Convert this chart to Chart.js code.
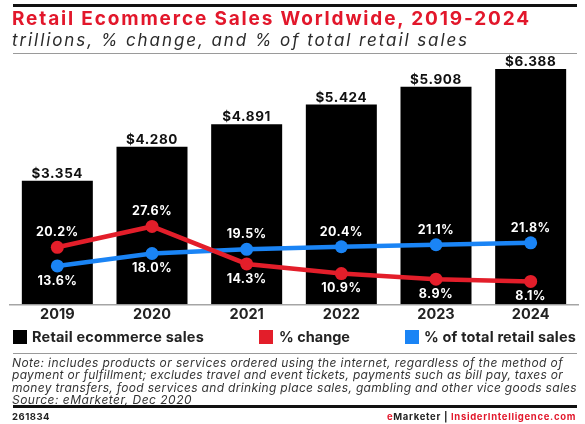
<!DOCTYPE html>
<html><head><meta charset="utf-8">
<script src="https://cdn.jsdelivr.net/npm/chart.js@4.4.1/dist/chart.umd.min.js"></script>
<style>
html,body{margin:0;padding:0;background:#fff;}
#wrap{position:relative;width:585px;height:424px;overflow:hidden;font-family:Inter,"Open Sans",sans-serif;}
#c{position:absolute;left:0;top:0;}
.t{position:absolute;white-space:nowrap;}
.rule{position:absolute;left:13px;width:564px;}
.lg{position:absolute;top:328.5px;font-size:14.5px;font-weight:700;color:#222;line-height:16px;white-space:nowrap;}
.bx{position:absolute;top:330px;width:14px;height:14px;}
.note{position:absolute;left:12px;font-size:12px;font-style:italic;color:#333;line-height:12.4px;white-space:nowrap;}
</style></head>
<body><div id="wrap">
<canvas id="c" width="585" height="424"></canvas>
<div class="rule" style="top:4px;height:3px;background:#111"></div>
<div class="t fit" style="left:12px;top:8px;font-size:19px;font-weight:700;color:#e2172b;line-height:22px" data-w="519">Retail Ecommerce Sales Worldwide, 2019-2024</div>
<div class="t fit" style="left:12px;top:29.5px;font-size:17px;font-style:italic;color:#2a2a2a;line-height:20px" data-w="457">trillions, % change, and % of total retail sales</div>
<div class="rule" style="top:53px;height:1px;background:#9a9a9a"></div>

<div class="bx" style="left:13px;background:#000"></div>
<div class="lg fit" style="left:32px" data-w="172">Retail ecommerce sales</div>
<div class="bx" style="left:259px;background:#e31e2a"></div>
<div class="lg fit" style="left:279px" data-w="71">% change</div>
<div class="bx" style="left:405px;background:#1a84f5"></div>
<div class="lg fit" style="left:424px" data-w="152">% of total retail sales</div>

<div class="rule" style="top:353px;height:1px;background:#9a9a9a"></div>
<div class="note fit" style="top:357px" data-w="551">Note: includes products or services ordered using the internet, regardless of the method of</div>
<div class="note fit" style="top:369px" data-w="551">payment or fulfillment; excludes travel and event tickets, payments such as bill pay, taxes or</div>
<div class="note fit" style="top:381.5px" data-w="565">money transfers, food services and drinking place sales, gambling and other vice goods sales</div>
<div class="note fit" style="top:394px" data-w="180">Source: eMarketer, Dec 2020</div>
<div class="rule" style="top:405px;height:2.5px;background:#111"></div>
<div class="t fit" style="left:12px;top:411px;font-size:9.5px;font-weight:700;color:#222;line-height:11px" data-w="38">261834</div>
<div class="t fit" style="left:387px;top:411px;font-size:9.5px;font-weight:700;color:#222;line-height:11px" data-w="189"><span style="color:#e2172b">e</span>Marketer | <span style="color:#e2172b">InsiderIntelligence.com</span></div>
</div>
<script>
// ---- data ----
const years = ['2019', '2020', '2021', '2022', '2023', '2024'];
const salesTrillions = [3.354, 4.280, 4.891, 5.424, 5.908, 6.388];
const pctChange = [20.2, 27.6, 14.3, 10.9, 8.9, 8.1];
const pctOfTotal = [13.6, 18.0, 19.5, 20.4, 21.1, 21.8];

// fit HTML texts to measured widths
document.querySelectorAll('.fit').forEach(el => {
  const w = +el.dataset.w;
  const n = el.textContent.length;
  const cur = el.getBoundingClientRect().width;
  el.style.letterSpacing = ((w - cur) / n) + 'px';
});

const RED = '#e31e2a', BLUE = '#1a84f5';

const labelPlugin = {
  id: 'valueLabels',
  afterDatasetsDraw(chart) {
    const ctx = chart.ctx;
    chart.data.datasets.forEach((ds, di) => {
      const meta = chart.getDatasetMeta(di);
      meta.data.forEach((el, i) => {
        const v = ds.data[i];
        ctx.save();
        ctx.textAlign = 'center';
        if (ds.type === 'bar') {
          ctx.font = '700 13.5px Inter, "Open Sans", sans-serif';
          try { ctx.letterSpacing = '0.6px'; } catch (e) {}
          ctx.fillStyle = '#111';
          ctx.textBaseline = 'middle';
          ctx.fillText('$' + v.toFixed(3), el.x, el.y - 7);
        } else {
          ctx.font = '700 12.5px Inter, "Open Sans", sans-serif';
          try { ctx.letterSpacing = '0.4px'; } catch (e) {}
          ctx.fillStyle = '#fff';
          ctx.textBaseline = 'middle';
          const side = ds.labelSide[i] === 'above' ? -1 : 1;
          ctx.fillText(v.toFixed(1) + '%', el.x, el.y + side * 15);
        }
        ctx.restore();
      });
    });
  }
};

new Chart(document.getElementById('c'), {
  data: {
    labels: years,
    datasets: [
      {
        type: 'line', label: '% change', data: pctChange, yAxisID: 'yPct', order: 0,
        borderColor: RED, backgroundColor: RED, borderWidth: 4.5,
        pointRadius: 6.5, pointBorderWidth: 0, pointBackgroundColor: RED, tension: 0,
        labelSide: ['above', 'above', 'below', 'below', 'below', 'below']
      },
      {
        type: 'line', label: '% of total retail sales', data: pctOfTotal, yAxisID: 'yPct', order: 1,
        borderColor: BLUE, backgroundColor: BLUE, borderWidth: 4.5,
        pointRadius: 6.5, pointBorderWidth: 0, pointBackgroundColor: BLUE, tension: 0,
        labelSide: ['below', 'below', 'above', 'above', 'above', 'above']
      },
      {
        type: 'bar', label: 'Retail ecommerce sales', data: salesTrillions, yAxisID: 'ySales', order: 2,
        backgroundColor: '#000', borderWidth: 0, categoryPercentage: 0.75, barPercentage: 1.0
      }
    ]
  },
  options: {
    responsive: false,
    animation: false,
    layout: { padding: { left: 10, right: 7, top: 60, bottom: 99.7 } },
    plugins: { legend: { display: false }, tooltip: { enabled: false } },
    scales: {
      x: {
        offset: true,
        grid: { display: false, drawTicks: false },
        border: { display: true, color: '#a5a5a5', width: 1.5 },
        ticks: { color: '#222', padding: 2, font: { family: 'Inter, "Open Sans", sans-serif', size: 14.5, weight: '700' } },
        afterFit(scale) { scale.height = 20; }
      },
      ySales: { display: false, min: 0, max: 6.633 },
      yPct: { display: false, min: 0, max: 86.6 }
    }
  },
  plugins: [labelPlugin]
});
</script>
</body></html>
